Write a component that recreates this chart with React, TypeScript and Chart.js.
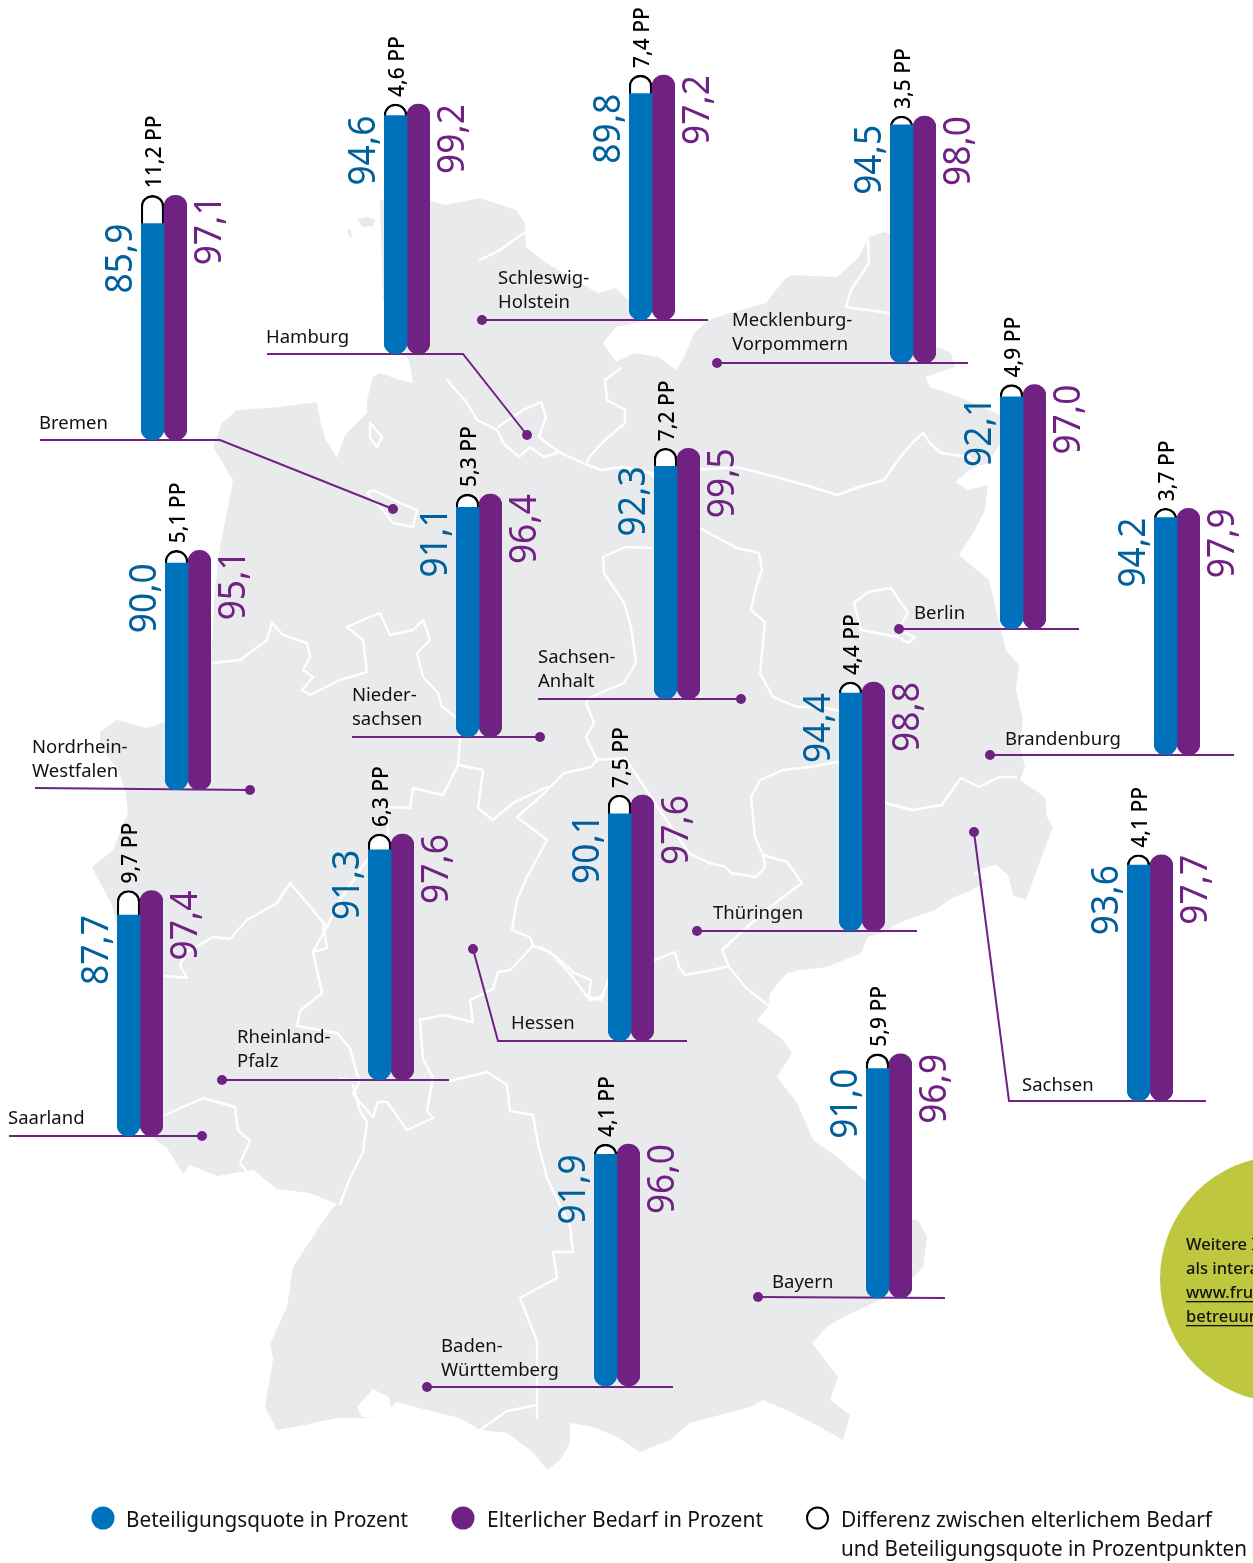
import React, { useEffect, useRef } from "react";
import { Chart, registerables } from "chart.js";

Chart.register(...registerables);

const PAGE_W = 1253;
const PAGE_H = 1563;

// ---------- chart data ----------
const states = ["Bremen","Hamburg","Schleswig-Holstein","Mecklenburg-Vorpommern","Berlin","Brandenburg","Niedersachsen","Sachsen-Anhalt","Nordrhein-Westfalen","Thüringen","Sachsen","Hessen","Rheinland-Pfalz","Saarland","Baden-Württemberg","Bayern"];
const beteiligung = [85.9,94.6,89.8,94.5,92.1,94.2,91.1,92.3,90.0,94.4,93.6,90.1,91.3,87.7,91.9,91.0];
const bedarf = [97.1,99.2,97.2,98.0,97.0,97.9,96.4,99.5,95.1,98.8,97.7,97.6,97.6,97.4,96.0,96.9];
const differenz = [11.2,4.6,7.4,3.5,4.9,3.7,5.3,7.2,5.1,4.4,4.1,7.5,6.3,9.7,4.1,5.9];
const categories = ["Beteiligungsquote","Elterlicher Bedarf"];
const legendTexts = ["Beteiligungsquote in Prozent","Elterlicher Bedarf in Prozent"];
const legendDiff = ["Differenz zwischen elterlichem Bedarf","und Beteiligungsquote in Prozentpunkten"];
const noteLines = ["Weitere I","als intera","www.fru","betreuun"];

// ---------- layout (page pixels) ----------
const barLeft = [141,384,629,890,1000,1154,456,654,165,839,1127,608,368,117,594,866];
const barBase = [440,354,320,363,629,755,737,699,790,931,1101,1041,1080,1136,1386,1298];
const leaders: number[][][] = [
  [[40,440],[220,440],[393,509]],
  [[267,354],[463,354],[527,435]],
  [[482,320],[708,320]],
  [[717,363],[968,363]],
  [[899,629],[1079,629]],
  [[990,755],[1234,755]],
  [[540,737],[352,737]],
  [[741,699],[538,699]],
  [[250,790],[35,788]],
  [[697,931],[917,931]],
  [[974,832],[1009,1101],[1206,1101]],
  [[473,949],[498,1041],[687,1041]],
  [[222,1080],[449,1080]],
  [[202,1136],[9,1136]],
  [[427,1387],[673,1387]],
  [[758,1297],[945,1298]],
];
const dotEnds = [2,2,0,0,0,0,0,0,0,0,0,0,0,0,0,0];
const stateLabels: [string, number, number][] = [
  ["Bremen",39,429],["Hamburg",266,343],["Schleswig-",498,284],["Holstein",498,308],
  ["Mecklenburg-",732,326],["Vorpommern",732,350],["Berlin",914,619],["Brandenburg",1005,745],
  ["Nieder-",352,701],["sachsen",352,725],["Sachsen-",538,663],["Anhalt",538,687],
  ["Nordrhein-",32,753],["Westfalen",32,777],["Thüringen",713,919],["Sachsen",1022,1091],
  ["Hessen",511,1029],["Rheinland-",237,1043],["Pfalz",237,1067],["Saarland",8,1124],
  ["Baden-",441,1352],["Württemberg",441,1376],["Bayern",772,1288],
];

// ---------- base map (page pixels) ----------
const mapOutline = [[480,198],[516,210],[525,223],[526,247],[545,262],[575,280],[598,293],[616,288],[628,300],[640,322],[616,327],[603,343],[616,362],[634,353],[659,357],[676,370],[684,357],[694,333],[709,320],[730,313],[766,303],[784,280],[791,275],[837,277],[859,257],[869,237],[884,232],[905,240],[915,300],[925,340],[937,347],[951,353],[955,367],[940,372],[925,377],[930,387],[959,397],[1000,415],[1003,440],[987,463],[969,470],[955,482],[968,490],[988,485],[985,510],[975,530],[959,555],[989,580],[1001,630],[1006,650],[1019,665],[1016,690],[1023,720],[1020,747],[1025,767],[1020,780],[1045,797],[1047,817],[1053,827],[1043,853],[1026,900],[1013,895],[1008,875],[996,865],[983,868],[974,873],[986,882],[972,890],[952,898],[935,910],[898,923],[885,932],[868,937],[861,953],[827,967],[800,970],[787,973],[770,993],[768,1007],[757,1020],[783,1040],[792,1053],[777,1077],[797,1103],[813,1140],[837,1157],[867,1182],[890,1205],[912,1220],[918,1220],[927,1237],[923,1267],[913,1277],[900,1290],[880,1300],[843,1317],[827,1327],[812,1343],[838,1377],[830,1400],[850,1415],[843,1440],[820,1427],[793,1413],[763,1400],[750,1407],[690,1423],[670,1440],[640,1452],[617,1437],[593,1427],[570,1423],[570,1443],[560,1460],[547,1470],[533,1452],[507,1433],[480,1430],[460,1418],[423,1409],[397,1402],[377,1418],[337,1418],[300,1426],[277,1430],[265,1407],[273,1359],[270,1344],[287,1307],[293,1267],[310,1241],[330,1211],[337,1204],[310,1193],[277,1189],[253,1170],[217,1176],[190,1165],[183,1174],[167,1148],[152,1137],[145,1110],[135,1040],[125,960],[112,905],[97,877],[92,867],[113,850],[128,813],[125,790],[118,770],[100,745],[100,732],[117,720],[147,728],[165,722],[190,700],[211,660],[215,590],[220,547],[228,507],[233,480],[213,447],[222,423],[237,410],[280,407],[317,402],[320,420],[325,438],[337,458],[345,435],[367,413],[367,400],[373,377],[380,373],[400,380],[413,383],[409,360],[395,340],[383,300],[380,200],[410,195],[445,205]];
const mapIslands = [
  [[357,219],[368,217],[375,220],[373,226],[362,227]],
  [[347,228],[351,230],[352,238],[349,236]],
];
const mapWhiteAreas = [
  [[357,1407],[373,1389],[390,1398],[390,1411],[377,1418],[362,1417]],
];
const mapBorders = [
  [[525,232],[500,250],[480,260]],
  [[846,307],[851,290],[869,263],[868,240]],
  [[846,307],[889,313],[905,335]],
  [[621,368],[605,380],[607,400],[625,410],[625,423],[605,440],[589,457],[587,463]],
  [[447,380],[467,403],[477,420],[497,430],[501,437],[503,443],[519,457],[530,447],[544,457],[559,452],[587,465],[601,470],[623,467],[651,473],[737,467],[776,477],[812,487],[837,495],[859,487],[884,480],[898,460],[912,443],[923,433],[930,443],[941,453],[969,457],[980,467]],
  [[498,427],[523,410],[541,402],[546,417],[539,437],[559,452]],
  [[651,473],[680,515],[698,527],[716,537],[737,548],[759,553],[762,570],[756,587],[751,610],[765,622],[763,643],[760,673],[773,697],[797,707],[820,707],[845,712],[885,803],[912,810],[942,805],[950,793],[961,778],[979,787],[999,777],[1016,777]],
  [[854,603],[868,592],[891,588],[908,613],[898,630],[915,637],[908,643],[898,637],[861,630],[854,603]],
  [[885,803],[837,762],[810,767],[783,770],[760,780],[751,797],[755,837],[763,855],[787,862],[802,883],[783,897],[763,913],[736,937],[722,950],[729,967],[746,988],[768,1005]],
  [[651,548],[626,547],[603,557],[604,573],[624,603],[631,627],[636,663],[624,683],[591,697],[586,703],[594,723],[586,737],[597,760],[591,767],[564,773],[540,797],[517,817],[547,840],[527,877],[517,900],[512,930],[530,937],[533,946],[550,952],[570,974],[590,1000],[603,996]],
  [[597,760],[625,758],[655,803],[689,853],[709,863],[726,867],[731,873],[756,877],[765,867],[763,855]],
  [[540,947],[557,957],[574,973],[591,980],[589,997],[601,1000],[608,980],[655,960],[675,952],[679,967],[685,975],[712,970],[726,967]],
  [[212,663],[240,660],[267,640],[272,623],[283,635],[307,643],[310,657],[303,670],[313,677],[302,690],[310,695],[340,680],[367,672],[363,640],[347,627],[363,620],[380,613],[390,635],[413,630],[423,620],[430,640],[417,653],[423,677],[438,693],[442,707],[457,718],[460,740],[458,765],[483,770],[478,808],[493,820],[513,803],[547,787]],
  [[458,765],[443,795],[413,788],[410,808],[387,807],[388,833],[360,870],[340,900],[327,927],[307,903],[290,883],[277,903],[247,920],[230,939],[213,937],[187,952],[180,965],[187,978],[165,976]],
  [[533,946],[510,970],[498,972],[493,989],[470,1000],[473,1022],[443,1015],[420,1020],[423,1059],[433,1078],[430,1093],[427,1111],[433,1118],[407,1130],[387,1102],[378,1102],[373,1117],[353,1094],[360,1081],[340,1078]],
  [[450,1081],[487,1072],[507,1085],[510,1111],[533,1115],[538,1144],[547,1178],[570,1226],[573,1252],[553,1252],[557,1278],[520,1298],[537,1341],[537,1385],[537,1418]],
  [[537,1405],[507,1411],[480,1430]],
  [[353,1085],[360,1111],[367,1122],[363,1152],[350,1178],[340,1204]],
  [[327,927],[313,952],[327,948],[323,926]],
  [[313,952],[322,993],[300,1011],[297,1026],[337,1033],[350,1048],[357,1074],[360,1081]],
  [[165,1115],[203,1098],[235,1107],[238,1130],[250,1141],[240,1163],[247,1172]],
  [[367,493],[383,510],[393,523],[413,527],[417,510],[400,503],[373,490],[367,493]],
  [[370,423],[382,437],[377,447],[370,438],[370,423]],
];

// ---------- colours ----------
const BLUE = "#0072BC";
const BLUE_TEXT = "#00609C";
const PURPLE = "#6F2282";
const MAP = "#E9EAEC";
const GREEN = "#BFC73F";
const FONT = '"Noto Sans", sans-serif';

// ---------- geometry ----------
const BAR_SLOT = 23;
const PLOT_H = 252;
const PAD_SIDE = 60;
const PAD_TOP = 110;
const CAP_BELOW = 6; // the outlined cap continues this far under the blue bar, so its round top keeps its full radius

const comma = (v: number) => v.toFixed(1).replace(".", ",");

function tracePath(ctx: CanvasRenderingContext2D, chart: any, pts: number[][], close: boolean) {
  const { x, y } = chart.scales;
  ctx.beginPath();
  pts.forEach((p, i) => {
    const px = x.getPixelForValue(p[0]);
    const py = y.getPixelForValue(p[1]);
    if (i === 0) ctx.moveTo(px, py);
    else ctx.lineTo(px, py);
  });
  if (close) ctx.closePath();
}

const backdropPlugin = {
  id: "backdrop",
  beforeDatasetsDraw(chart: any) {
    const ctx: CanvasRenderingContext2D = chart.ctx;
    ctx.save();
    ctx.lineJoin = "round";
    ctx.lineCap = "round";
    ctx.fillStyle = MAP;
    tracePath(ctx, chart, mapOutline, true);
    ctx.fill();
    mapIslands.forEach((p) => { tracePath(ctx, chart, p, true); ctx.fill(); });
    ctx.fillStyle = "#fff";
    mapWhiteAreas.forEach((p) => { tracePath(ctx, chart, p, true); ctx.fill(); });
    ctx.strokeStyle = "#fff";
    ctx.lineWidth = 2.4;
    mapBorders.forEach((p) => { tracePath(ctx, chart, p, false); ctx.stroke(); });
    // green note disc
    const { x, y } = chart.scales;
    ctx.fillStyle = GREEN;
    ctx.beginPath();
    ctx.arc(x.getPixelForValue(1283), y.getPixelForValue(1279), 123, 0, Math.PI * 2);
    ctx.fill();
    ctx.restore();
  },
  afterDatasetsDraw(chart: any) {
    const ctx: CanvasRenderingContext2D = chart.ctx;
    ctx.save();
    ctx.textBaseline = "alphabetic";
    ctx.textAlign = "left";
    ctx.fillStyle = "#111";
    ctx.font = `18.5px ${FONT}`;
    stateLabels.forEach(([t, x, y]) => ctx.fillText(t, x, y));

    // note
    ctx.font = `500 16.5px ${FONT}`;
    noteLines.forEach((t, i) => {
      const by = 1250 + i * 24;
      ctx.fillText(t, 1186, by);
      if (i >= 2) ctx.fillRect(1186, by + 3, 70, 1.3);
    });

    // legend
    ctx.font = `21px ${FONT}`;
    ctx.fillStyle = BLUE;
    ctx.beginPath(); ctx.arc(103, 1518, 11.5, 0, Math.PI * 2); ctx.fill();
    ctx.fillStyle = PURPLE;
    ctx.beginPath(); ctx.arc(463, 1518, 11.5, 0, Math.PI * 2); ctx.fill();
    ctx.strokeStyle = "#000";
    ctx.lineWidth = 2;
    ctx.beginPath(); ctx.arc(817.5, 1518, 10.5, 0, Math.PI * 2); ctx.stroke();
    ctx.fillStyle = "#111";
    ctx.fillText(legendTexts[0], 126, 1527, 282);
    ctx.fillText(legendTexts[1], 487, 1527, 276);
    ctx.fillText(legendDiff[0], 841, 1527, 371);
    ctx.fillText(legendDiff[1], 841, 1556, 406);
    ctx.restore();
  },
};

const valueLabelPlugin = {
  id: "valueLabels",
  afterDatasetsDraw(chart: any, _args: any, opts: any) {
    const ctx: CanvasRenderingContext2D = chart.ctx;
    const y = chart.scales.y;
    const { left, right } = chart.chartArea;
    const rotated = (text: string, px: number, py: number, align: CanvasTextAlign, font: string, color: string, maxW: number) => {
      ctx.save();
      ctx.translate(px, py);
      ctx.rotate(-Math.PI / 2);
      ctx.textAlign = align;
      ctx.textBaseline = "alphabetic";
      ctx.font = font;
      ctx.fillStyle = color;
      ctx.fillText(text, 0, 0, maxW);
      ctx.restore();
    };
    rotated(comma(opts.quote), left - 9, y.getPixelForValue(opts.quote), "right", `38px ${FONT}`, BLUE_TEXT, 70);
    rotated(comma(opts.need), right + 34, y.getPixelForValue(opts.need), "right", `38px ${FONT}`, PURPLE, 70);
    rotated(`${comma(opts.diff)} PP`, left + 20, y.getPixelForValue(opts.need) - 7, "left", `500 21px ${FONT}`, "#000", 100);
  },
};

function StateBars({ index }: { index: number }) {
  const ref = useRef<HTMLCanvasElement>(null);
  useEffect(() => {
    const canvas = ref.current!;
    const quote = beteiligung[index];
    const need = bedarf[index];
    const diff = differenz[index];
    const chart = new Chart(canvas, {
      type: "bar",
      data: {
        labels: categories,
        datasets: [
          { label: "Beteiligungsquote in Prozent", data: [quote, null], backgroundColor: BLUE, borderWidth: 0, borderSkipped: false,
            borderRadius: { topLeft: 0, topRight: 0, bottomLeft: 11.5, bottomRight: 11.5 } },
          { label: "Elterlicher Bedarf in Prozent", data: [null, need], backgroundColor: PURPLE, borderWidth: 0, borderSkipped: false,
            borderRadius: 11.5 },
          { label: "Differenz", data: [[quote - CAP_BELOW, need], null], backgroundColor: "#fff", borderColor: "#000", borderWidth: 2.4,
            borderSkipped: "bottom", borderRadius: { topLeft: 11.5, topRight: 11.5, bottomLeft: 0, bottomRight: 0 } },
        ] as any,
      },
      options: {
        responsive: false,
        animation: false,
        events: [],
        layout: { padding: { left: PAD_SIDE, right: PAD_SIDE, top: PAD_TOP, bottom: 0 } },
        datasets: { bar: { categoryPercentage: 1, barPercentage: 1 } },
        scales: {
          x: { display: false, stacked: true },
          y: { display: false, stacked: false, min: 0, max: 100 },
        },
        plugins: {
          legend: { display: false },
          tooltip: { enabled: false },
          valueLabels: { quote, need, diff },
        } as any,
      },
      plugins: [valueLabelPlugin],
    });
    return () => chart.destroy();
  }, [index]);
  const width = PAD_SIDE * 2 + BAR_SLOT * 2;
  const height = PAD_TOP + PLOT_H;
  return (
    <canvas
      ref={ref}
      role="img"
      aria-label={states[index]}
      width={width}
      height={height}
      style={{ position: "absolute", left: barLeft[index] - PAD_SIDE, top: barBase[index] - height, width, height }}
    />
  );
}

function Backdrop() {
  const ref = useRef<HTMLCanvasElement>(null);
  useEffect(() => {
    const chart = new Chart(ref.current!, {
      type: "scatter",
      data: {
        datasets: leaders.map((pts, i) => ({
          label: states[i],
          data: pts.map((p) => ({ x: p[0], y: p[1] })),
          showLine: true,
          borderColor: PURPLE,
          backgroundColor: PURPLE,
          borderWidth: 2,
          pointBorderWidth: 0,
          pointRadius: (c: any) => (c.dataIndex === dotEnds[i] ? 5 : 0),
        })),
      },
      options: {
        responsive: false,
        animation: false,
        events: [],
        layout: { padding: 0, autoPadding: false },
        scales: {
          x: { type: "linear", display: false, min: 0, max: PAGE_W },
          y: { type: "linear", display: false, min: 0, max: PAGE_H, reverse: true },
        },
        plugins: { legend: { display: false }, tooltip: { enabled: false } },
      },
      plugins: [backdropPlugin],
    });
    return () => chart.destroy();
  }, []);
  return <canvas ref={ref} width={PAGE_W} height={PAGE_H} style={{ position: "absolute", left: 0, top: 0, width: PAGE_W, height: PAGE_H }} />;
}

export default function App() {
  return (
    <div style={{ position: "absolute", left: 0, top: 0, width: PAGE_W, height: PAGE_H, overflow: "hidden", background: "#fff" }}>
      <Backdrop />
      {states.map((_, i) => <StateBars key={i} index={i} />)}
    </div>
  );
}
